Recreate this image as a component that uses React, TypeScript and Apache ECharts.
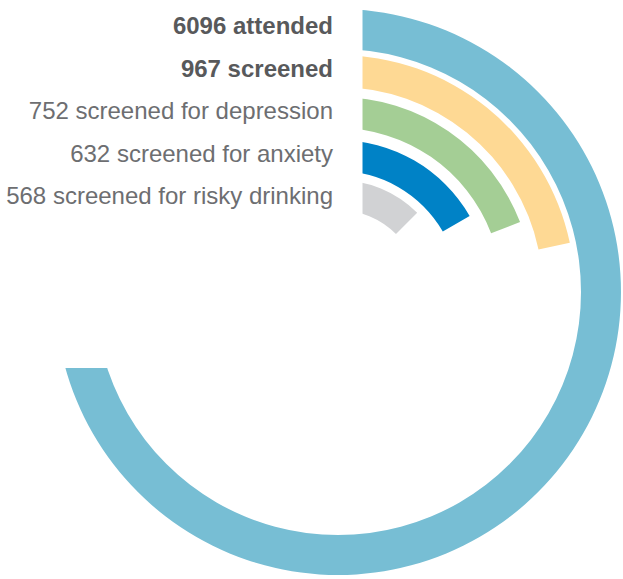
import React, { useEffect, useRef } from "react";
import * as echarts from "echarts";

// Data
const categories = [
  "attended",
  "screened",
  "screened for depression",
  "screened for anxiety",
  "screened for risky drinking",
];
const counts = [6096, 967, 752, 632, 568];
// visible sweep of each ring, degrees clockwise from 12 o'clock
const arcDegrees = [360, 78, 69, 60, 45];
const boldRows = [true, true, false, false, false];

// Styling / layout
const ringColors = ["#77bed4", "#fed994", "#a4ce95", "#0082c6", "#d1d2d4"];
const ringRadii: [number, number][] = [
  [243, 283],
  [205, 237],
  [164, 195],
  [121, 152],
  [82, 112],
];
const CX = 338;
const CY = 292;
const labelY = [25, 68, 110, 153, 195];

export default function App() {
  const ref = useRef<HTMLDivElement>(null);
  useEffect(() => {
    if (!ref.current) return;
    const chart = echarts.init(ref.current, null, { renderer: "svg" });
    const option: any = {
      animation: false,
      polar: ringRadii.map((r) => ({ center: [CX, CY], radius: r })),
      angleAxis: ringRadii.map((_, i) => ({
        polarIndex: i,
        type: "value",
        min: 0,
        max: 360,
        startAngle: 90,
        clockwise: true,
        show: false,
      })),
      radiusAxis: ringRadii.map((_, i) => ({
        polarIndex: i,
        type: "category",
        data: [categories[i]],
        show: false,
      })),
      series: ringRadii.map((_, i) => ({
        type: "bar",
        coordinateSystem: "polar",
        polarIndex: i,
        data: [arcDegrees[i]],
        barWidth: "100%",
        silent: true,
        itemStyle: { color: ringColors[i] },
      })),
      graphic: [
        {
          type: "rect",
          shape: { x: 0, y: 0, width: 362.5, height: 368 },
          style: { fill: "#ffffff" },
          z: 100,
          silent: true,
        },
        ...categories.map((c, i) => ({
          type: "text",
          x: 333,
          y: labelY[i],
          z: 101,
          style: {
            text: `${counts[i]} ${c}`,
            fontFamily: "'Liberation Sans', Arial, sans-serif",
            fontSize: 24,
            fontWeight: boldRows[i] ? "bold" : "normal",
            fill: boldRows[i] ? "#58595b" : "#6d6e71",
            textAlign: "right",
            textVerticalAlign: "middle",
          },
        })),
      ],
    };
    chart.setOption(option);
    return () => chart.dispose();
  }, []);
  return (
    <div
      ref={ref}
      style={{ position: "fixed", left: 0, top: 0, width: 623, height: 579, background: "#fff" }}
    />
  );
}
